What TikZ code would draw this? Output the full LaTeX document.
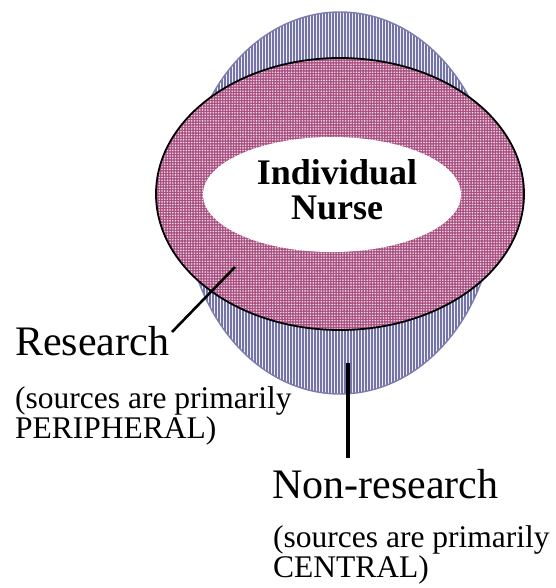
\documentclass[tikz,border=0pt]{standalone}
\usepackage{fontspec}
\setmainfont{Liberation Serif}
\usetikzlibrary{shapes.geometric,patterns.meta}

\definecolor{stripedark}{HTML}{7474A8}
\definecolor{stripelight}{HTML}{EEEEF7}
\definecolor{stripeedge}{HTML}{7C7CAE}
\definecolor{dotdark}{HTML}{A84F80}
\definecolor{dotlight}{HTML}{F0D8E6}

\tikzset{
  region/.style={ellipse, inner sep=0pt},
  nonresearch/.style={region, line width=1.4pt, draw=stripeedge,
    preaction={fill=stripelight},
    pattern={Lines[angle=90, distance=3pt, line width=1.2pt]},
    pattern color=stripedark},
  research/.style={region, line width=1.8pt, draw=black,
    preaction={fill=dotdark},
    pattern={Dots[radius=0.9pt, distance=2.7pt]},
    pattern color=dotlight},
  core/.style={region, fill=white},
  biglabel/.style={anchor=base west, inner sep=0pt,
    font=\fontsize{42}{44}\selectfont},
  smalllabel/.style={anchor=base west, inner sep=0pt, align=left,
    font=\fontsize{31.5}{28.5}\selectfont},
  leader/.style={line width=2.6pt, draw=black},
}

\begin{document}
\begin{tikzpicture}[x=1pt, y=-1pt]
  \useasboundingbox (0,0) rectangle (555,588);

  % nested sources of knowledge
  \node[nonresearch, minimum width=310pt, minimum height=382pt] (outer) at (340,203) {};
  \node[research, minimum width=368pt, minimum height=272pt] (middle) at (340,194) {};
  \node[core, minimum width=258pt, minimum height=115pt] (inner) at (332,194.5) {};

  \node[align=center, inner sep=0pt, font=\fontsize{36}{35}\selectfont\bfseries]
    (nurse) at (337,190) {Individual\\Nurse};

  % labels (multi-line labels are placed by the baseline of their last line)
  \node[biglabel] (research) at (15,355) {Research};
  \node[smalllabel] (researchsrc) at (15,438) {(sources are primarily\\PERIPHERAL)};
  \node[biglabel] (nonres) at (272,498) {Non-research};
  \node[smalllabel] (nonressrc) at (273,577) {(sources are primarily\\CENTRAL)};

  % leader lines
  \coordinate (rA) at (172,332);
  \coordinate (rB) at (235,267);
  \coordinate (nA) at (348,458);
  \coordinate (nB) at (348,363);
  \draw[leader] (rA) -- (rB);
  \draw[leader, line width=3.4pt] (nA) -- (nB);
\end{tikzpicture}
\end{document}
